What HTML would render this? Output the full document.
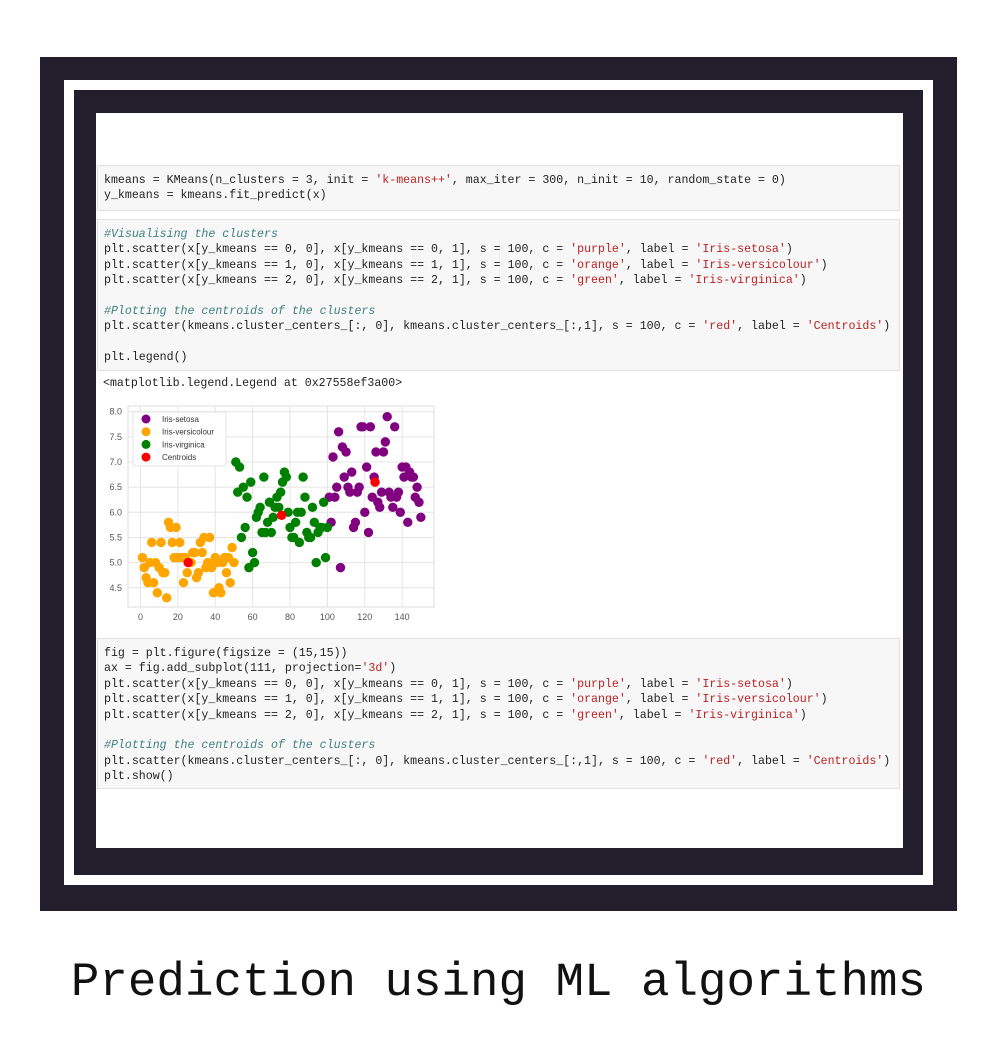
<!DOCTYPE html>
<html><head><meta charset="utf-8"><style>
body{margin:0;width:997px;height:1052px;background:#fff;position:relative;overflow:hidden;font-family:"Liberation Sans",sans-serif}
.abs{position:absolute}
.cell{position:absolute;left:97px;width:803px;background:#f7f7f7;border:1px solid #e0e0e0;box-sizing:border-box}
pre{margin:0;font-family:"Liberation Mono",monospace;font-size:11.6px;line-height:15.4px;color:#222;white-space:pre}
.s{color:#ba2121}.c{color:#408080;font-style:italic}
</style></head><body>
<div class="abs" style="left:40px;top:57px;width:917px;height:854px;background:#231e2b"></div>
<div class="abs" style="left:64px;top:80px;width:869px;height:805px;background:#fff"></div>
<div class="abs" style="left:74px;top:90px;width:849px;height:785px;background:#231e2b"></div>
<div class="abs" style="left:96px;top:113px;width:807px;height:735px;background:#fff"></div>

<div class="cell" style="top:165px;height:46px;padding:7px 0 0 6px"><pre>kmeans = KMeans(n_clusters = 3, init = <span class="s">'k-means++'</span>, max_iter = 300, n_init = 10, random_state = 0)
y_kmeans = kmeans.fit_predict(x)</pre></div>

<div class="cell" style="top:219px;height:152px;padding:7px 0 0 6px"><pre><span class="c">#Visualising the clusters</span>
plt.scatter(x[y_kmeans == 0, 0], x[y_kmeans == 0, 1], s = 100, c = <span class="s">'purple'</span>, label = <span class="s">'Iris-setosa'</span>)
plt.scatter(x[y_kmeans == 1, 0], x[y_kmeans == 1, 1], s = 100, c = <span class="s">'orange'</span>, label = <span class="s">'Iris-versicolour'</span>)
plt.scatter(x[y_kmeans == 2, 0], x[y_kmeans == 2, 1], s = 100, c = <span class="s">'green'</span>, label = <span class="s">'Iris-virginica'</span>)

<span class="c">#Plotting the centroids of the clusters</span>
plt.scatter(kmeans.cluster_centers_[:, 0], kmeans.cluster_centers_[:,1], s = 100, c = <span class="s">'red'</span>, label = <span class="s">'Centroids'</span>)

plt.legend()</pre></div>

<pre class="abs" style="left:103px;top:376px">&lt;matplotlib.legend.Legend at 0x27558ef3a00&gt;</pre>

<svg class="abs" id="chart" style="left:0;top:0" width="997" height="1052"></svg>

<div class="cell" style="top:638px;height:151px;padding:7px 0 0 6px"><pre>fig = plt.figure(figsize = (15,15))
ax = fig.add_subplot(111, projection=<span class="s">'3d'</span>)
plt.scatter(x[y_kmeans == 0, 0], x[y_kmeans == 0, 1], s = 100, c = <span class="s">'purple'</span>, label = <span class="s">'Iris-setosa'</span>)
plt.scatter(x[y_kmeans == 1, 0], x[y_kmeans == 1, 1], s = 100, c = <span class="s">'orange'</span>, label = <span class="s">'Iris-versicolour'</span>)
plt.scatter(x[y_kmeans == 2, 0], x[y_kmeans == 2, 1], s = 100, c = <span class="s">'green'</span>, label = <span class="s">'Iris-virginica'</span>)

<span class="c">#Plotting the centroids of the clusters</span>
plt.scatter(kmeans.cluster_centers_[:, 0], kmeans.cluster_centers_[:,1], s = 100, c = <span class="s">'red'</span>, label = <span class="s">'Centroids'</span>)
plt.show()</pre></div>

<div class="abs" style="left:0;width:997px;top:956px;text-align:center;font-family:'Liberation Mono',monospace;font-size:47.5px;color:#111">Prediction using ML algorithms</div>

<script>
const orangeY=[5.1,4.9,4.7,4.6,5.0,5.4,4.6,5.0,4.4,4.9,5.4,4.8,4.8,4.3,5.8,5.7,5.4,5.1,5.7,5.1,5.4,5.1,4.6,5.1,4.8,5.0,5.0,5.2,5.2,4.7,4.8,5.4,5.2,5.5,4.9,5.0,5.5,4.9,4.4,5.1,5.0,4.5,4.4,5.0,5.1,4.8,5.1,4.6,5.3,5.0];
const greenY=[7.0,6.4,6.9,5.5,6.5,5.7,6.3,4.9,6.6,5.2,5.0,5.9,6.0,6.1,5.6,6.7,5.6,5.8,6.2,5.6,5.9,6.1,6.3,6.1,6.4,6.6,6.8,6.7,6.0,5.7,5.5,5.5,5.8,6.0,5.4,6.0,6.7,6.3,5.6,5.5,5.5,6.1,5.8,5.0,5.6,5.7,5.7,6.2,5.1,5.7];
const purpleY=[6.3,5.8,7.1,6.3,6.5,7.6,4.9,7.3,6.7,7.2,6.5,6.4,6.8,5.7,5.8,6.4,6.5,7.7,7.7,6.0,6.9,5.6,7.7,6.3,6.7,7.2,6.2,6.1,6.4,7.2,7.4,7.9,6.4,6.3,6.1,7.7,6.3,6.4,6.0,6.9,6.7,6.9,5.8,6.8,6.7,6.7,6.3,6.5,6.2,5.9];
const orangeStart=1, greenStart=51, purpleStart=101;
const centroidX=[25.5,75.5,125.5];
const centroidY=[5.0,5.94,6.6];
const xTicks=[0,20,40,60,80,100,120,140];
const yTicks=[4.5,5.0,5.5,6.0,6.5,7.0,7.5,8.0];
const legendLabels=["Iris-setosa","Iris-versicolour","Iris-virginica","Centroids"];
const legendColors=["purple","orange","green","red"];

const NS="http://www.w3.org/2000/svg";
const svg=document.getElementById('chart');
const L=128,R=434,T=406,B=607;
const sx=v=>140.5+v*1.869;
const sy=v=>411.7+(8.0-v)*50.3;
function mk(tag,attrs,parent){const e=document.createElementNS(NS,tag);for(const k in attrs)e.setAttribute(k,attrs[k]);(parent||svg).appendChild(e);return e;}
const frame=mk('rect',{x:L,y:T,width:R-L,height:B-T,fill:'#fff',stroke:'#ddd','stroke-width':1});


xTicks.forEach(t=>{
  const g=mk('line',{x1:sx(t),x2:sx(t),y1:T,y2:B,stroke:'#e4e4e4','stroke-width':1});
  
  
  const tx=mk('text',{x:sx(t),y:B+13,'text-anchor':'middle','font-size':9,fill:'#555','font-family':'Liberation Sans, sans-serif'});
  tx.textContent=t;
  
  
});
yTicks.forEach(t=>{
  const g=mk('line',{x1:L,x2:R,y1:sy(t),y2:sy(t),stroke:'#e4e4e4','stroke-width':1});
  
  
  const tx=mk('text',{x:L-6,y:sy(t)+3,'text-anchor':'end','font-size':9,fill:'#555','font-family':'Liberation Sans, sans-serif'});
  tx.textContent=t.toFixed(1);
  
  
});
function series(ys,start,color,name){
  ys.forEach((v,i)=>{
    const c=mk('circle',{cx:sx(start+i),cy:sy(v),r:4.7,fill:color});
    
    
  });
}
series(purpleY,purpleStart,'purple','point-setosa');
series(orangeY,orangeStart,'orange','point-versicolour');
series(greenY,greenStart,'green','point-virginica');
centroidX.forEach((v,i)=>{
  const c=mk('circle',{cx:sx(v),cy:sy(centroidY[i]),r:4.7,fill:'red'});
  
  
});
const lg=mk('rect',{x:133,y:412,width:93,height:54,fill:'#fff',stroke:'#ddd','stroke-width':0.8,rx:2});


legendLabels.forEach((l,i)=>{
  const y=419+i*12.7;
  const c=mk('circle',{cx:146,cy:y,r:4.5,fill:legendColors[i]});
  
  
  const t=mk('text',{x:162,y:y+3,'font-size':8,fill:'#333','font-family':'Liberation Sans, sans-serif'});
  t.textContent=l;
  
  
});
</script>
</body></html>
